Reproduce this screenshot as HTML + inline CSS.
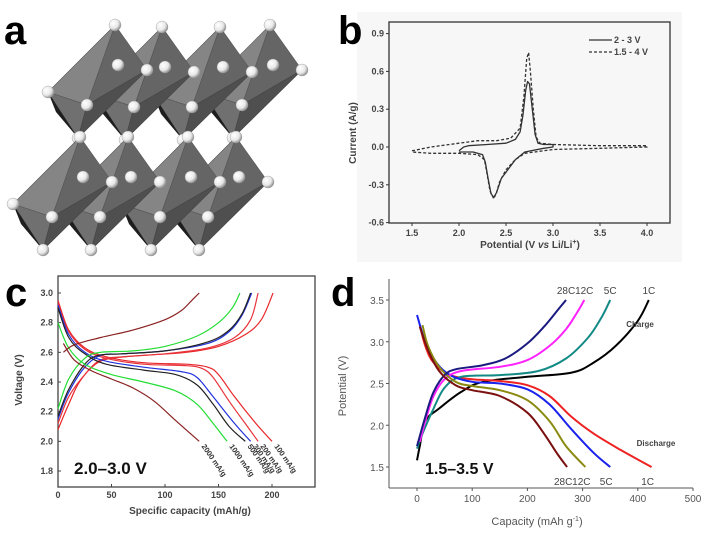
<!DOCTYPE html>
<html><head><meta charset="utf-8"><style>
html,body{margin:0;padding:0;background:#fff;}
svg{display:block;font-family:"Liberation Sans",sans-serif;}
</style></head><body>
<svg id="fig" width="714" height="536" viewBox="0 0 714 536">
<defs>
<radialGradient id="sph" cx="0.35" cy="0.35" r="0.7"><stop offset="0" stop-color="#fff"/><stop offset="0.6" stop-color="#e8e8e8"/><stop offset="1" stop-color="#888"/></radialGradient>
</defs>
<g id="pa"></g>
<g id="pb"></g>
<g id="pc"></g>
<g id="pd"></g>
<text x="4" y="44" font-size="40" font-weight="bold">a</text>
<text x="338" y="44" font-size="40" font-weight="bold">b</text>
<text x="5" y="306" font-size="40" font-weight="bold">c</text>
<text x="331" y="306" font-size="40" font-weight="bold">d</text>
</svg>
<script>
// ---------- Panel b data ----------
const bSolidX=[2.0,2.05,2.1,2.3,2.5,2.6,2.65,2.68,2.71,2.73,2.75,2.78,2.81,2.84,2.9,3.0,3.0,2.9,2.7,2.6,2.5,2.45,2.4,2.37,2.34,2.31,2.28,2.25,2.15,2.0];
const bSolidY=[-0.03,0.0,0.01,0.02,0.03,0.06,0.12,0.25,0.45,0.52,0.5,0.3,0.1,0.03,0.02,0.02,0.0,-0.01,-0.04,-0.1,-0.2,-0.25,-0.36,-0.4,-0.37,-0.25,-0.12,-0.06,-0.04,-0.04];
const bDashX=[1.5,1.7,2.0,2.2,2.4,2.55,2.65,2.69,2.72,2.74,2.76,2.79,2.82,2.86,3.0,3.5,4.0,4.0,3.5,3.0,2.7,2.6,2.5,2.43,2.4,2.37,2.33,2.3,2.27,2.2,2.0,1.7,1.5];
const bDashY=[-0.03,0.0,0.03,0.05,0.05,0.07,0.15,0.4,0.7,0.75,0.6,0.3,0.08,0.03,0.02,0.01,0.01,0.0,-0.01,-0.02,-0.05,-0.1,-0.18,-0.28,-0.36,-0.41,-0.35,-0.22,-0.1,-0.06,-0.05,-0.05,-0.04];
const bXTicks=[1.5,2.0,2.5,3.0,3.5,4.0];
const bYTicks=[0.9,0.6,0.3,0.0,-0.3,-0.6];
const bYLabels=["0.9","0.6","0.3","0.0","-0.3","-0.6"];
// ---------- Panel c data ----------
const cRates=["100 mA/g","200 mA/g","300 mA/g","500 mA/g","1000 mA/g","2000 mA/g"];
const cColors=["#e8262a","#e8343c","#2233dd","#222222","#22dd33","#8b2222"];
const cDisX=[[0,10,25,45,80,120,140,150,165,185,200],[0,10,25,45,80,120,135,145,160,175,187],[0,10,25,45,80,115,130,145,165,180],[0,10,25,45,80,110,130,145,160,175],[0,10,25,50,80,110,130,145,158],[5,15,30,50,70,90,110,132]];
const cDisY=[[2.95,2.75,2.63,2.57,2.53,2.52,2.5,2.45,2.3,2.12,2.0],[2.93,2.74,2.62,2.56,2.52,2.51,2.49,2.43,2.27,2.12,2.0],[2.92,2.72,2.6,2.54,2.5,2.47,2.43,2.3,2.12,2.0],[2.9,2.7,2.59,2.52,2.48,2.45,2.38,2.25,2.1,2.0],[2.8,2.63,2.52,2.45,2.4,2.34,2.25,2.12,2.0],[2.66,2.55,2.48,2.42,2.36,2.27,2.14,2.0]];
const cChX=[[0,10,20,35,50,80,120,150,175,190,201],[0,10,25,40,60,100,140,165,180,187],[0,10,25,40,60,100,140,160,172,181],[0,10,25,38,60,100,140,160,172,180],[0,10,25,40,70,100,130,150,163,170],[5,15,40,70,100,115,125,132]];
const cChY=[[2.08,2.25,2.4,2.52,2.56,2.58,2.6,2.64,2.72,2.82,3.0],[2.12,2.3,2.45,2.55,2.57,2.59,2.63,2.7,2.82,3.0],[2.15,2.33,2.5,2.58,2.59,2.61,2.66,2.74,2.85,3.0],[2.17,2.35,2.52,2.58,2.59,2.61,2.67,2.75,2.86,3.0],[2.22,2.42,2.56,2.6,2.61,2.64,2.71,2.8,2.9,3.0],[2.6,2.65,2.7,2.75,2.82,2.88,2.95,3.0]];
const cXTicks=[0,50,100,150,200];
const cYTicks=[1.8,2.0,2.2,2.4,2.6,2.8,3.0];
const cYLabels=["1.8","2.0","2.2","2.4","2.6","2.8","3.0"];
// ---------- Panel d data ----------
const dRates=["1C","5C","12C","28C"];
const dChColors=["#000000","#138a86","#ff22ff","#1a1a80"];
const dDisColors=["#ee2222","#1a22ee","#8a8a10","#7a1010"];
const dChX=[[0,5,15,40,80,120,200,280,320,360,400,420],[0,10,30,50,80,150,220,270,310,335,350],[5,15,30,50,80,150,200,240,270,290,303],[0,15,30,50,70,120,160,200,230,255,270]];
const dChY=[[1.58,1.75,2.05,2.2,2.4,2.52,2.58,2.63,2.75,2.95,3.25,3.5],[1.72,1.9,2.2,2.45,2.58,2.6,2.65,2.8,3.05,3.3,3.5],[1.8,2.05,2.35,2.55,2.65,2.7,2.78,2.95,3.15,3.35,3.5],[1.75,2.1,2.4,2.6,2.67,2.72,2.8,2.98,3.18,3.38,3.5]];
const dDisX=[[5,15,30,60,100,150,200,240,280,320,370,425],[0,15,35,60,100,150,200,240,280,320,350],[10,20,40,70,100,150,200,240,270,305],[5,20,40,70,100,150,200,230,255,272]];
const dDisY=[[3.2,2.95,2.75,2.6,2.55,2.53,2.48,2.35,2.1,1.9,1.7,1.5],[3.32,3.0,2.75,2.6,2.52,2.5,2.43,2.25,1.95,1.67,1.5],[3.2,2.95,2.7,2.52,2.47,2.42,2.3,2.05,1.75,1.5],[3.18,2.9,2.65,2.48,2.42,2.35,2.15,1.9,1.65,1.5]];
const dXTicks=[0,100,200,300,400,500];
const dYTicks=[1.5,2.0,2.5,3.0,3.5];
const dYLabels=["1.5","2.0","2.5","3.0","3.5"];

const NS="http://www.w3.org/2000/svg";
function mk(parent,tag,attrs,txt){const e=document.createElementNS(NS,tag);for(const k in attrs)e.setAttribute(k,attrs[k]);if(txt!==undefined)e.textContent=txt;parent.appendChild(e);return e;}
function pathD(xs,ys,sx,sy){return xs.map((x,i)=>(i?"L":"M")+sx(x).toFixed(1)+","+sy(ys[i]).toFixed(1)).join("");}
function smoothD(xs,ys,sx,sy){
  const p=xs.map((x,i)=>[sx(x),sy(ys[i])]);
  let d="M"+p[0][0].toFixed(1)+","+p[0][1].toFixed(1);
  for(let i=0;i<p.length-1;i++){
    const p0=p[Math.max(i-1,0)],p1=p[i],p2=p[i+1],p3=p[Math.min(i+2,p.length-1)];
    const c1=[p1[0]+(p2[0]-p0[0])/6,p1[1]+(p2[1]-p0[1])/6];
    const c2=[p2[0]-(p3[0]-p1[0])/6,p2[1]-(p3[1]-p1[1])/6];
    d+="C"+c1[0].toFixed(1)+","+c1[1].toFixed(1)+" "+c2[0].toFixed(1)+","+c2[1].toFixed(1)+" "+p2[0].toFixed(1)+","+p2[1].toFixed(1);
  }
  return d;
}

// ---------- Panel a ----------
(function(){
const g=document.getElementById('pa');
const tops=[[270,25],[220,27],[162,27],[115,25],[236,137],[188,137],[128,137],[80,137]];
tops.forEach((t,i)=>{
  const tx=t[0],ty=t[1];
  const T=[tx,ty],B=[tx-37,ty+113],L=[tx-67,ty+67],R=[tx+32,ty+45],F=[tx-28,ty+80],K=[tx+3,ty+40];
  const og=mk(g,'g',{});
  
  
  const P=a=>a.map(p=>p.join(",")).join(" ");
  mk(og,'polygon',{points:P([T,L,F]),fill:'#858585',stroke:'#555','stroke-width':0.6});
  mk(og,'polygon',{points:P([T,F,R]),fill:'#656565',stroke:'#555','stroke-width':0.6});
  mk(og,'polygon',{points:P([B,L,F]),fill:'#707070',stroke:'#555','stroke-width':0.6});
  mk(og,'polygon',{points:P([B,F,R]),fill:'#4f4f4f',stroke:'#444','stroke-width':0.6});
  mk(og,'polygon',{points:P([L,B,[L[0]+8,L[1]+20]]),fill:'#1e1e1e'});
  [T,B,L,R,F,K].forEach(p=>{
    const c=mk(og,'circle',{cx:p[0],cy:p[1],r:6,fill:'url(#sph)',stroke:'#999','stroke-width':0.4});
    
    
  });
});
})();

// ---------- Panel b ----------
(function(){
const g=document.getElementById('pb');
mk(g,'rect',{x:357,y:12,width:325,height:250,fill:'#f7f7f7'});
const x0=389,x1=670,y0=22,y1=223;
const sx=v=>412+(v-1.5)*(647-412)/2.5;
const sy=v=>147-v*(37.8/0.3);
const fr=mk(g,'rect',{x:x0,y:y0,width:x1-x0,height:y1-y0,fill:'none',stroke:'#333','stroke-width':1.3});

bXTicks.forEach(v=>{mk(g,'line',{x1:sx(v),x2:sx(v),y1:y1,y2:y1+3,stroke:'#333'});
 const t=mk(g,'text',{x:sx(v),y:y1+13,'font-size':9,'font-weight':'bold','text-anchor':'middle',fill:'#444'},v.toFixed(1));
 });
bYTicks.forEach((v,i)=>{mk(g,'line',{x1:x0-3,x2:x0,y1:sy(v),y2:sy(v),stroke:'#333'});
 const t=mk(g,'text',{x:x0-5,y:sy(v)+3,'font-size':9,'font-weight':'bold','text-anchor':'end',fill:'#444'},bYLabels[i]);
 });
const s=mk(g,'path',{d:pathD(bSolidX,bSolidY,sx,sy),fill:'none',stroke:'#333','stroke-width':1.3,'stroke-linejoin':'round'});

const d=mk(g,'path',{d:pathD(bDashX,bDashY,sx,sy),fill:'none',stroke:'#333','stroke-width':1.3,'stroke-dasharray':'3,2'});

mk(g,'line',{x1:589,x2:612,y1:40,y2:40,stroke:'#333','stroke-width':1.3});
const l1=mk(g,'text',{x:614,y:43,'font-size':9,'font-weight':'bold',fill:'#444'},'2 - 3 V');

mk(g,'line',{x1:589,x2:612,y1:52,y2:52,stroke:'#333','stroke-width':1.3,'stroke-dasharray':'3,2'});
const l2=mk(g,'text',{x:614,y:55,'font-size':9,'font-weight':'bold',fill:'#444'},'1.5 - 4 V');

const xt=mk(g,'text',{x:530,y:248,'font-size':10,'font-weight':'bold','text-anchor':'middle',fill:'#444'});
xt.innerHTML='Potential (V <tspan font-style="italic">vs</tspan> Li/Li<tspan dy="-4" font-size="7">+</tspan><tspan dy="4">)</tspan>';

const yt=mk(g,'text',{x:0,y:0,'font-size':10,'font-weight':'bold','text-anchor':'middle',fill:'#444',transform:'translate(356,133) rotate(-90)'},'Current (A/g)');

})();

// ---------- Panel c ----------
(function(){
const g=document.getElementById('pc');
const x0=58,x1=315,y0=276,y1=487;
const sx=v=>58+v*(272-58)/200;
const sy=v=>293+(3.0-v)*(471-293)/1.2;
const fr=mk(g,'rect',{x:x0,y:y0,width:x1-x0,height:y1-y0,fill:'none',stroke:'#444','stroke-width':1.3});

cXTicks.forEach(v=>{mk(g,'line',{x1:sx(v),x2:sx(v),y1:y1,y2:y1-3,stroke:'#444'});
 const t=mk(g,'text',{x:sx(v),y:y1+11,'font-size':9,'font-weight':'bold','text-anchor':'middle',fill:'#444'},String(v));
 });
cYTicks.forEach((v,i)=>{mk(g,'line',{x1:x0,x2:x0+3,y1:sy(v),y2:sy(v),stroke:'#444'});
 const t=mk(g,'text',{x:x0-5,y:sy(v)+3,'font-size':9,'font-weight':'bold','text-anchor':'end',fill:'#444'},cYLabels[i]);
 });
cRates.forEach((r,i)=>{
 const p1=mk(g,'path',{d:smoothD(cChX[i],cChY[i],sx,sy),fill:'none',stroke:cColors[i],'stroke-width':1.2});
 
 const p2=mk(g,'path',{d:smoothD(cDisX[i],cDisY[i],sx,sy),fill:'none',stroke:cColors[i],'stroke-width':1.2});
 
 const ex=sx(cDisX[i][cDisX[i].length-1]),ey=sy(cDisY[i][cDisY[i].length-1]);
 const t=mk(g,'text',{x:0,y:0,'font-size':7.5,'font-weight':'bold',fill:'#333',transform:`translate(${ex+2},${ey+5}) rotate(55)`},r);
 
});
const bl=mk(g,'text',{x:74,y:474,'font-size':17,'font-weight':'bold',fill:'#111'},'2.0–3.0 V');

const xt=mk(g,'text',{x:190,y:514,'font-size':10,'font-weight':'bold','text-anchor':'middle',fill:'#444'},'Specific capacity (mAh/g)');

const yt=mk(g,'text',{x:0,y:0,'font-size':10,'font-weight':'bold','text-anchor':'middle',fill:'#444',transform:'translate(22,380) rotate(-90)'},'Voltage (V)');

})();

// ---------- Panel d ----------
(function(){
const g=document.getElementById('pd');
const x0=389,x1=693,y0=279,y1=488;
const sx=v=>417+v*(693-417)/500;
const sy=v=>300+(3.5-v)*(467-300)/2.0;
mk(g,'line',{x1:x0,x2:x0,y1:y0,y2:y1,stroke:'#555','stroke-width':1});
mk(g,'line',{x1:x0,x2:x1,y1:y1,y2:y1,stroke:'#555','stroke-width':1});
dXTicks.forEach(v=>{mk(g,'line',{x1:sx(v),x2:sx(v),y1:y1,y2:y1+3,stroke:'#555'});
 const t=mk(g,'text',{x:sx(v),y:y1+14,'font-size':10,'text-anchor':'middle',fill:'#555'},String(v));
 });
dYTicks.forEach((v,i)=>{mk(g,'line',{x1:x0-3,x2:x0,y1:sy(v),y2:sy(v),stroke:'#555'});
 const t=mk(g,'text',{x:x0-5,y:sy(v)+4,'font-size':10,'text-anchor':'end',fill:'#555'},dYLabels[i]);
 });
dRates.forEach((r,i)=>{
 const p1=mk(g,'path',{d:smoothD(dChX[i],dChY[i],sx,sy),fill:'none',stroke:dChColors[i],'stroke-width':2});
 
 const p2=mk(g,'path',{d:smoothD(dDisX[i],dDisY[i],sx,sy),fill:'none',stroke:dDisColors[i],'stroke-width':2});
 
 const cx=sx(dChX[i][dChX[i].length-1]);
 const t1=mk(g,'text',{x:cx,y:294,'font-size':10,'text-anchor':'middle',fill:'#444'},r);
 
 const dx=sx(dDisX[i][dDisX[i].length-1]);
 const t2=mk(g,'text',{x:dx-4,y:485,'font-size':10,'text-anchor':'middle',fill:'#444'},r);
 
});
const ch=mk(g,'text',{x:640,y:327,'font-size':8,'font-weight':'bold','text-anchor':'middle',fill:'#444'},'Charge');

const dc=mk(g,'text',{x:656,y:446,'font-size':8,'font-weight':'bold','text-anchor':'middle',fill:'#444'},'Discharge');

const bl=mk(g,'text',{x:425,y:474,'font-size':16,'font-weight':'bold',fill:'#111'},'1.5–3.5 V');

const xt=mk(g,'text',{x:537,y:525,'font-size':11,'text-anchor':'middle',fill:'#555'});
xt.innerHTML='Capacity (mAh g<tspan dy="-4" font-size="7">-1</tspan><tspan dy="4">)</tspan>';

const yt=mk(g,'text',{x:0,y:0,'font-size':11,'text-anchor':'middle',fill:'#555',transform:'translate(346,386) rotate(-90)'},'Potential (V)');

})();
</script>
</body></html>
